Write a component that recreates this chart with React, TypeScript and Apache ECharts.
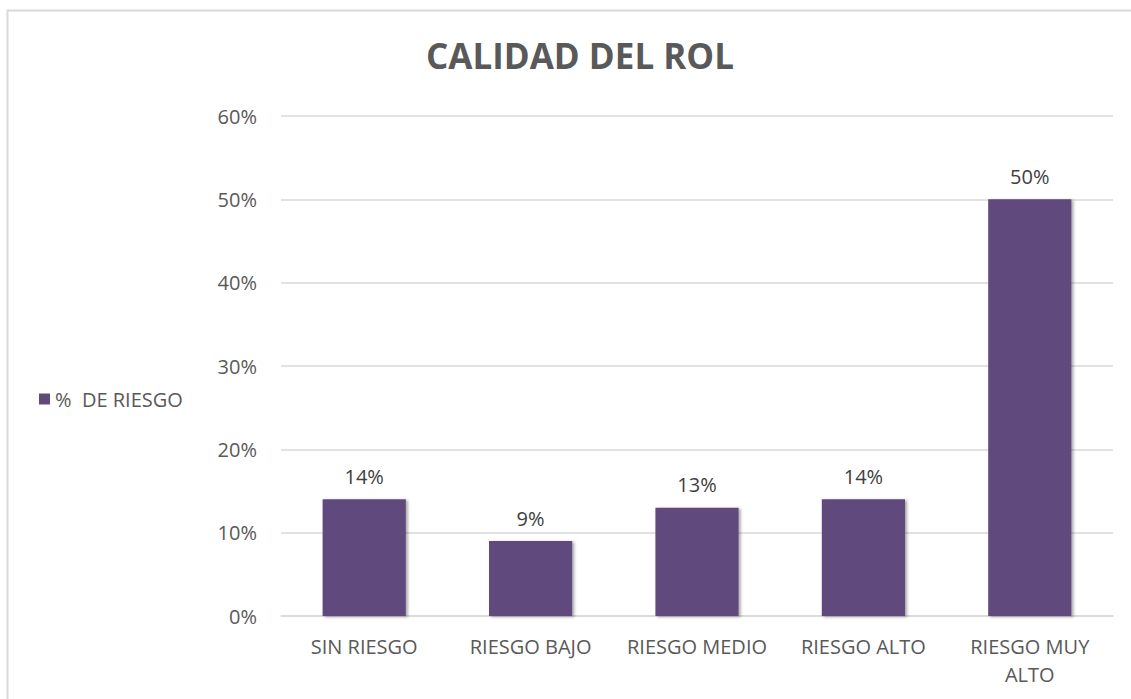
import React, { useEffect, useRef } from "react";
import * as echarts from "echarts";

const categories = ["SIN RIESGO", "RIESGO BAJO", "RIESGO MEDIO", "RIESGO ALTO", "RIESGO MUY\nALTO"];
const values = [14, 9, 13, 14, 50];
const seriesName = "%  DE RIESGO";
const titleText = "CALIDAD DEL ROL";

export default function App() {
  const ref = useRef<HTMLDivElement>(null);
  useEffect(() => {
    if (!ref.current) return;
    const chart = echarts.init(ref.current, null, { renderer: "svg" });
    const font = "'Open Sans', sans-serif";
    chart.setOption({
      animation: false,
      backgroundColor: "#ffffff",
      title: {
        text: titleText,
        left: 421,
        top: 33,
        textStyle: { fontFamily: font, fontSize: 35, fontWeight: "bold", color: "#595959" },
      },
      legend: {
        data: [seriesName],
        orient: "vertical",
        left: 34,
        top: 384,
        itemWidth: 11,
        itemHeight: 11,
        icon: "rect",
        itemGap: 5,
        textStyle: { fontFamily: font, fontSize: 20, color: "#595959" },
      },
      grid: { left: 281, right: 18, top: 116, bottom: 83 },
      xAxis: {
        type: "category",
        data: categories,
        axisLine: { lineStyle: { color: "#d9d9d9", width: 1.5 } },
        axisTick: { show: false },
        axisLabel: { fontFamily: font, fontSize: 20, color: "#595959", lineHeight: 28, margin: 16, interval: 0 },
      },
      yAxis: {
        type: "value",
        min: 0,
        max: 60,
        interval: 10,
        axisLabel: { formatter: "{value}%", fontFamily: font, fontSize: 20, color: "#595959", margin: 24 },
        splitLine: { lineStyle: { color: "#d9d9d9", width: 1.5 } },
        axisLine: { show: false },
        axisTick: { show: false },
      },
      graphic: [
        {
          type: "polyline",
          shape: { points: [[7.5, 699], [7.5, 10.5], [1131, 10.5]] },
          style: { stroke: "#d9d9d9", lineWidth: 2, fill: "none" },
          silent: true,
        },
      ],
      series: [
        {
          name: seriesName,
          type: "bar",
          data: values,
          barWidth: "50%",
          itemStyle: {
            color: "#604A7B",
            shadowBlur: 3,
            shadowOffsetX: 2,
            shadowOffsetY: 1,
            shadowColor: "rgba(0,0,0,0.35)",
          },
          label: {
            show: true,
            position: "top",
            distance: 13,
            formatter: "{c}%",
            fontFamily: font,
            fontSize: 20,
            color: "#404040",
          },
        },
      ],
    });
    return () => chart.dispose();
  }, []);
  return <div ref={ref} style={{ position: "fixed", left: 0, top: 0, width: 1131, height: 699 }} />;
}
